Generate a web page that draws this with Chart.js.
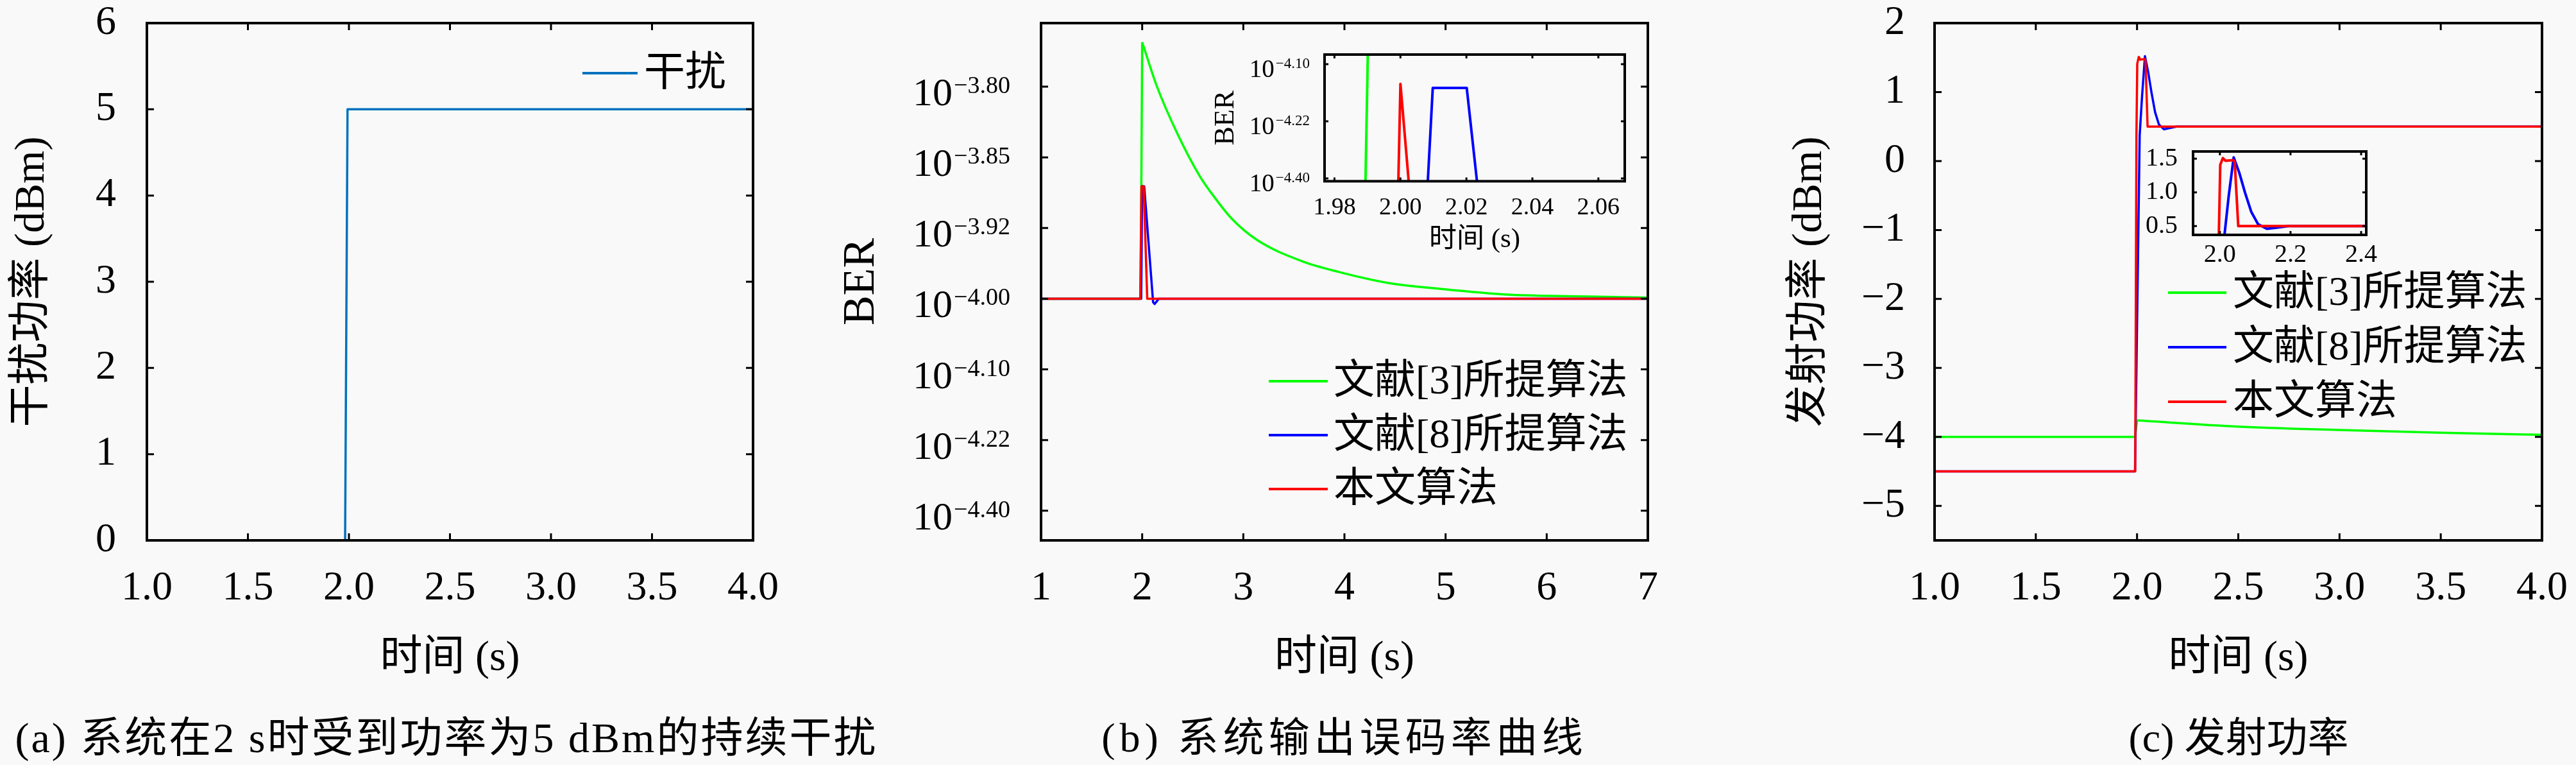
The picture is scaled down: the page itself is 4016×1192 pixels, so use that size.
<!DOCTYPE html>
<html>
<head>
<meta charset="utf-8">
<script src="https://cdn.jsdelivr.net/npm/chart.js@4.4.1/dist/chart.umd.min.js"></script>
<style>
  body { margin: 0; width: 4016px; height: 1192px; background: #f9f9f9; position: relative; overflow: hidden;
         font-family: "Liberation Serif", "Noto Sans CJK SC", serif; }
  canvas { position: absolute; }
  .cap { position: absolute; top: 1110px; font-size: 64px; line-height: 80px; white-space: nowrap; transform: translateX(-50%); color: #000; }
</style>
</head>
<body>
<canvas id="ca" width="1300" height="1090" style="left:0;top:0"></canvas>
<canvas id="cb" width="1380" height="1090" style="left:1300px;top:0"></canvas>
<canvas id="cbi" width="680" height="370" style="left:1880px;top:40px"></canvas>
<canvas id="cc" width="1266" height="1090" style="left:2750px;top:0"></canvas>
<canvas id="cci" width="380" height="200" style="left:3330px;top:220px"></canvas>
<div class="cap" style="left:696px;font-size:66px;letter-spacing:3px">(a) 系统在2 s时受到功率为5 dBm的持续干扰</div>
<div class="cap" style="left:2096px;letter-spacing:7px">(b) 系统输出误码率曲线</div>
<div class="cap" style="left:3490px">(c) 发射功率</div>
<script>
// ---- data ----
// (a) interference power
const tA = [1.0, 1.981, 1.993, 4.0];
const pA = [0, 0, 5, 5];
const xTicksA = [1.0, 1.5, 2.0, 2.5, 3.0, 3.5, 4.0];
const yTicksA = [0, 1, 2, 3, 4, 5, 6];

// (b) BER
const seriesNames = ['文献[3]所提算法', '文献[8]所提算法', '本文算法'];
const tB3 = [1, 1.985, 2.0, 2.144, 2.345, 2.567, 2.715, 2.884, 3.137, 3.581, 3.941, 4.427, 4.977, 5.636, 6.02, 6.41, 7.0];
const berB3 = [1e-4, 1e-4, 1.726e-4, 1.602e-4, 1.469e-4, 1.348e-4, 1.287e-4, 1.227e-4, 1.166e-4, 1.106e-4,
               1.076e-4, 1.045e-4, 1.027e-4, 1.011e-4, 1.008e-4, 1.006e-4, 1.003e-4];
const tB8 = [1, 1.99, 2.0, 2.02, 2.108, 2.123, 2.165, 7];
const berB8 = [1e-4, 1e-4, 1.318e-4, 1.318e-4, 0.99e-4, 0.985e-4, 1e-4, 1e-4];
const tBO = [1, 1.981, 1.993, 2.015, 2.05, 7];
const berBO = [1e-4, 1e-4, 1.318e-4, 1.318e-4, 1e-4, 1e-4];
const xTicksB = [1, 2, 3, 4, 5, 6, 7];
const berTicks = [4e-5, 6e-5, 8e-5, 1.0e-4, 1.2e-4, 1.4e-4, 1.6e-4];
const berExp = ['−4.40', '−4.22', '−4.10', '−4.00', '−3.92', '−3.85', '−3.80'];

// (b) inset
const tIn3 = [1.9894, 1.9902];
const berIn3 = [3.85e-5, 8.9e-5];
const tIn8 = [2.0083, 2.0098, 2.0201, 2.0232];
const berIn8 = [3.9e-5, 7.17e-5, 7.17e-5, 3.9e-5];
const tInO = [1.99937, 2.0, 2.0025];
const berInO = [3.9e-5, 7.31e-5, 3.9e-5];
const xTicksBi = [1.98, 2.00, 2.02, 2.04, 2.06];
const berTicksBi = [4e-5, 6e-5, 8e-5];
const berExpBi = ['−4.40', '−4.22', '−4.10'];

// (c) transmit power
const tC3 = [1, 1.99, 2.0, 2.5, 3.0, 3.5, 4.0];
const pC3 = [-4, -4, -3.76, -3.85, -3.90, -3.94, -3.97];
const tC8 = [1, 1.99, 2.013, 2.025, 2.039, 2.055, 2.071, 2.089, 2.108, 2.133, 2.157, 2.194, 4.0];
const pC8 = [-4.5, -4.5, 0.37, 0.95, 1.52, 1.29, 1.0, 0.71, 0.53, 0.46, 0.475, 0.5, 0.5];
const tCO = [1, 1.991, 1.997, 2.001, 2.0085, 2.016, 2.038, 2.042, 2.052, 4.0];
const pCO = [-4.5, -4.5, 0.37, 1.41, 1.51, 1.47, 1.48, 1.45, 0.5, 0.5];
const xTicksC = [1.0, 1.5, 2.0, 2.5, 3.0, 3.5, 4.0];
const yTicksC = [-5, -4, -3, -2, -1, 0, 1, 2];
const xTicksCi = [2.0, 2.2, 2.4];
const yTicksCi = [0.5, 1.0, 1.5];

const GREEN = '#00ff00', BLUE = '#0000ff', RED = '#ff0000';
const fam = '"Liberation Serif", "Noto Sans CJK SC", serif';

function pts(xs, ys) { return xs.map((x, i) => ({ x: x, y: ys[i] })); }

// box with inward ticks on all four sides, plus optional 10^x labels
const framePlugin = {
  id: 'frame',
  afterDraw(chart, args, o) {
    const { ctx, chartArea: a, scales } = chart;
    ctx.save();
    ctx.strokeStyle = '#000';
    ctx.lineWidth = o.tickWidth;
    ctx.beginPath();
    scales.x.ticks.forEach(t => {
      const px = scales.x.getPixelForValue(t.value);
      ctx.moveTo(px, a.bottom); ctx.lineTo(px, a.bottom - o.tickLen);
      ctx.moveTo(px, a.top); ctx.lineTo(px, a.top + o.tickLen);
    });
    scales.y.ticks.forEach(t => {
      const py = scales.y.getPixelForValue(t.value);
      ctx.moveTo(a.left, py); ctx.lineTo(a.left + o.tickLen, py);
      ctx.moveTo(a.right, py); ctx.lineTo(a.right - o.tickLen, py);
    });
    ctx.stroke();
    ctx.lineWidth = o.lineWidth;
    ctx.strokeRect(a.left, a.top, a.width, a.height);
    if (o.sup) {
      const s = o.sup;
      ctx.fillStyle = '#000';
      ctx.textBaseline = 'alphabetic';
      scales.y.ticks.forEach((t, i) => {
        const py = scales.y.getPixelForValue(t.value);
        const xr = a.left - s.gap;
        ctx.font = s.small + 'px ' + fam;
        const ws = ctx.measureText(s.labels[i]).width;
        ctx.textAlign = 'left';
        ctx.fillText(s.labels[i], xr - ws, py + s.dySup);
        ctx.font = s.big + 'px ' + fam;
        ctx.textAlign = 'right';
        ctx.fillText('10', xr - ws - 2, py + s.dyBig);
      });
    }
    ctx.restore();
  }
};

const legendPlugin = {
  id: 'lgd',
  afterDraw(chart, args, o) {
    if (!o || !o.font) return;
    const ctx = chart.ctx;
    ctx.save();
    ctx.font = o.font + 'px ' + fam;
    ctx.textBaseline = 'middle';
    ctx.textAlign = 'left';
    ctx.fillStyle = '#000';
    ctx.lineWidth = 4;
    let row = 0;
    chart.data.datasets.forEach(ds => {
      if (ds.noLegend) return;
      const y = o.y + row * o.dy;
      ctx.strokeStyle = ds.borderColor;
      ctx.beginPath(); ctx.moveTo(o.x, y); ctx.lineTo(o.x + o.seg, y); ctx.stroke();
      ctx.fillText(ds.label, o.x + o.seg + o.gap, y + 2);
      row++;
    });
    ctx.restore();
  }
};

function noPad(s) { s.paddingTop = 0; s.paddingBottom = 0; s.paddingLeft = 0; s.paddingRight = 0; }

function axis(o) {
  return {
    type: 'linear', min: o.min, max: o.max, bounds: 'data',
    grid: { display: false, drawTicks: false },
    border: { display: false },
    afterBuildTicks: s => { s.ticks = o.ticks.map(v => ({ value: v })); },
    ticks: {
      display: o.showLabels !== false, padding: o.pad, color: '#000', autoSkip: false, maxRotation: 0,
      font: { family: fam, size: o.fs }, callback: o.fmt
    },
    title: o.title ? { display: true, text: o.title, color: '#000', font: { family: fam, size: o.tfs }, padding: o.tpad }
                   : { display: false }
  };
}

function build(id, W, H, area, datasets, xs, ys, frame, lgd) {
  return new Chart(document.getElementById(id), {
    type: 'line',
    data: { datasets: datasets },
    options: {
      responsive: false, animation: false, devicePixelRatio: 1, events: [],
      layout: { padding: { left: 0, top: area.top, right: W - area.right, bottom: 0 } },
      plugins: { legend: { display: false }, tooltip: { enabled: false }, frame: frame, lgd: lgd || {} },
      scales: {
        x: Object.assign(axis(xs), { afterFit: s => { s.height = H - area.bottom; noPad(s); } }),
        y: Object.assign(axis(ys), { afterFit: s => { s.width = area.left; noPad(s); } })
      }
    },
    plugins: [framePlugin, legendPlugin]
  });
}

function line(label, xs, ys, color, order, w, smooth) {
  return {
    label: label, data: pts(xs, ys), borderColor: color, backgroundColor: color,
    borderWidth: w, pointRadius: 0, fill: false, order: order,
    cubicInterpolationMode: smooth ? 'monotone' : 'default', borderJoinStyle: 'round'
  };
}

// a series with a sharp jump followed by a smooth decay: straight part up to
// index k, smooth part from k on (one legend entry)
function jumpDecay(label, xs, ys, k, color, order, w) {
  const rise = line(label, xs.slice(0, k + 1), ys.slice(0, k + 1), color, order, w);
  const decay = line(label, xs.slice(k), ys.slice(k), color, order, w, true);
  decay.noLegend = true;
  return [rise, decay];
}

const f1 = v => v.toFixed(1);
const f2 = v => v.toFixed(2);
const fInt = v => (v < 0 ? '−' + Math.abs(v) : String(v));

// (a)
build('ca', 1300, 1090, { left: 229, right: 1174, top: 36, bottom: 842 },
  [line('干扰', tA, pA, '#0072BD', 1, 3.5)],
  { min: 1, max: 4, ticks: xTicksA, fmt: f1, fs: 64, pad: 37, title: '时间 (s)', tfs: 66, tpad: 24 },
  { min: 0, max: 6, ticks: yTicksA, fmt: fInt, fs: 64, pad: 48, title: '干扰功率 (dBm)', tfs: 66, tpad: 11 },
  { lineWidth: 4, tickWidth: 3, tickLen: 11 },
  { font: 64, x: 908, y: 114, dy: 0, seg: 86, gap: 10 });

// (b)
build('cb', 1380, 1090, { left: 323, right: 1269, top: 36, bottom: 842 },
  [...jumpDecay(seriesNames[0], tB3, berB3, 2, GREEN, 3, 3.5),
   line(seriesNames[1], tB8, berB8, BLUE, 2, 3.5),
   line(seriesNames[2], tBO, berBO, RED, 1, 3.5)],
  { min: 1, max: 7, ticks: xTicksB, fmt: fInt, fs: 64, pad: 37, title: '时间 (s)', tfs: 66, tpad: 24 },
  { min: 3.16e-5, max: 1.78e-4, ticks: berTicks, showLabels: false, fs: 64, pad: 10, title: 'BER', tfs: 70, tpad: 2 },
  { lineWidth: 4, tickWidth: 3, tickLen: 11,
    sup: { labels: berExp, gap: 48, big: 62, small: 38, dyBig: 29, dySup: 10 } },
  { font: 64, x: 678, y: 594, dy: 84, seg: 92, gap: 9 });

// (b) inset
build('cbi', 680, 370, { left: 185, right: 653, top: 45, bottom: 242.4 },
  [line(seriesNames[0], tIn3, berIn3, GREEN, 3, 4),
   line(seriesNames[1], tIn8, berIn8, BLUE, 2, 4),
   line(seriesNames[2], tInO, berInO, RED, 1, 4)],
  { min: 1.977, max: 2.068, ticks: xTicksBi, fmt: f2, fs: 38, pad: 19, title: '时间 (s)', tfs: 43, tpad: 10 },
  { min: 3.9e-5, max: 8.34e-5, ticks: berTicksBi, showLabels: false, fs: 38, pad: 10, title: 'BER', tfs: 44, tpad: 5 },
  { lineWidth: 4, tickWidth: 3, tickLen: 6,
    sup: { labels: berExpBi, gap: 23, big: 39, small: 23, dyBig: 20, dySup: 6 } });

// (c)
build('cc', 1266, 1090, { left: 266, right: 1213, top: 36, bottom: 842 },
  [...jumpDecay(seriesNames[0], tC3, pC3, 2, GREEN, 3, 3.5),
   line(seriesNames[1], tC8, pC8, BLUE, 2, 3.5),
   line(seriesNames[2], tCO, pCO, RED, 1, 3.5)],
  { min: 1, max: 4, ticks: xTicksC, fmt: f1, fs: 64, pad: 37, title: '时间 (s)', tfs: 66, tpad: 24 },
  { min: -5.5, max: 2, ticks: yTicksC, fmt: fInt, fs: 64, pad: 46, title: '发射功率 (dBm)', tfs: 66, tpad: 32 },
  { lineWidth: 4, tickWidth: 3, tickLen: 11 },
  { font: 64, x: 630, y: 456, dy: 85, seg: 91, gap: 10 });

// (c) inset
build('cci', 380, 200, { left: 89, right: 359, top: 16, bottom: 146 },
  [...jumpDecay(seriesNames[0], tC3, pC3, 2, GREEN, 3, 4),
   line(seriesNames[1], tC8, pC8, BLUE, 2, 4),
   line(seriesNames[2], tCO, pCO, RED, 1, 4)],
  { min: 1.924, max: 2.4145, ticks: xTicksCi, fmt: f1, fs: 40, pad: 7 },
  { min: 0.37, max: 1.608, ticks: yTicksCi, fmt: f1, fs: 40, pad: 24 },
  { lineWidth: 4, tickWidth: 3, tickLen: 6 });
</script>
</body>
</html>
